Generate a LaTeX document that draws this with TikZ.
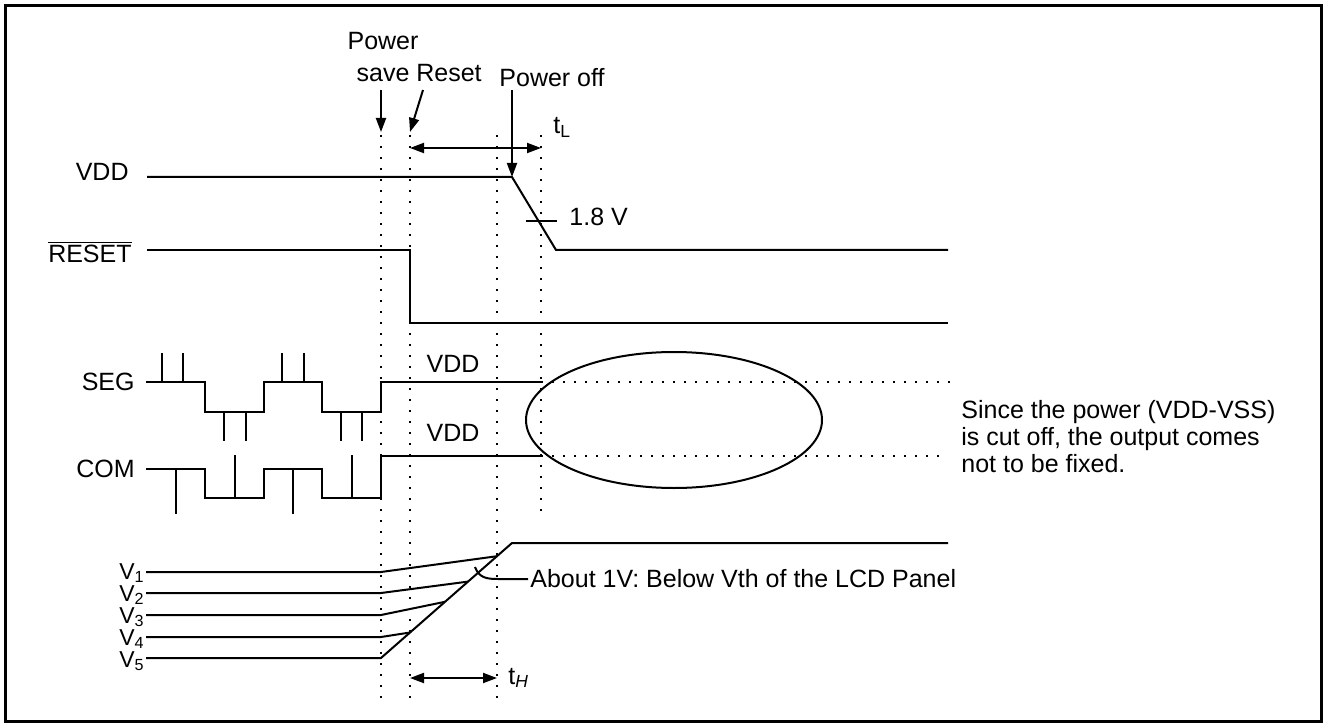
\documentclass[tikz,border=0pt]{standalone}
\usepackage{fontspec}
\setmainfont{Liberation Sans}
\usetikzlibrary{arrows.meta, calc}

\begin{document}
\begin{tikzpicture}[x=0.5pt, y=-0.5pt,
        every node/.style={font=\fontsize{12.5}{15}\selectfont, inner sep=0pt},
        sig/.style={line width=1pt},
        wave/.style={line width=1.3pt},
        guide/.style={line width=1pt, dash pattern=on 1pt off 4.5pt},
        pointer/.style={line width=1pt, -{Triangle[length=7pt, width=5pt]}},
        span/.style={line width=1pt, {Triangle[length=7pt, width=5pt]}-{Triangle[length=7pt, width=5pt]}},
        siglabel/.style={anchor=base east},
        note/.style={anchor=base west}
    ]

    \useasboundingbox (0,0) rectangle (1327,727);
    \draw[line width=1.5pt] (5.5,5.5) rectangle (1321.5,721.5);

    % event markers
    \coordinate (ps) at (381,132);
    \coordinate (rs) at (410,132);
    \coordinate (po) at (512,177);
    \node[anchor=base, align=center, font=\fontsize{12.5}{16}\selectfont] (psave) at (383,82) {Power\\save};
    \node[anchor=base] (reset) at (449,82) {Reset};
    \node[anchor=base] (poff) at (552,87) {Power off};
    \draw[pointer] (ps |- 0,90) -- (ps);
    \draw[pointer] (423,90) -- (rs);
    \draw[pointer] (po |- 0,90) -- (po);

    \draw[guide] (381,135) -- (381,705);
    \draw[guide] (410,135) -- (410,705);
    \draw[guide] (497,135) -- (497,705);
    \draw[guide] (541,135) -- (541,515);

    % tL, tH
    \draw[span] (410,148) -- (541,148);
    \node[note] (tl) at (553,134) {t\textsubscript{L}};
    \draw[span] (410,678) -- (497,678);
    \node[note] (th) at (508,684) {t\textsubscript{\itshape H}};

    % VDD
    \node[siglabel] (vdd) at (129,181) {VDD};
    \draw[sig] (147,177) -- (512,177) -- (556,250) -- (948,250);
    \draw[sig] (526,221) -- (557,221);
    \node[note] (v18) at (569,226) {1.8 V};

    % RESET
    \node[siglabel] (rst) at (132,263) {$\overline{\mbox{RESET}}$};
    \draw[sig] (147,250) -- (410,250) -- (410,323) -- (948,323);

    % SEG
    \node[siglabel] (seg) at (135,390) {SEG};
    \draw[wave] (146,382) -- (205,382) -- (205,412) -- (264,412) -- (264,382)
        -- (322,382) -- (322,412) -- (381,412) -- (381,382) -- (541,382);
    \foreach \x in {162,183,282,304}
        \draw[wave] (\x,382) -- (\x,353);
    \foreach \x in {224,246,341,362}
        \draw[wave] (\x,412) -- (\x,441);
    \draw[guide] (541,382) -- (950,382);
    \node[anchor=base] (segv) at (453,372) {VDD};

    % COM
    \node[siglabel] (com) at (135,477) {COM};
    \draw[wave] (146,469) -- (205,469) -- (205,498) -- (264,498) -- (264,469)
        -- (322,469) -- (322,498) -- (381,498) -- (381,456) -- (541,456);
    \foreach \x in {176,293}
        \draw[wave] (\x,469) -- (\x,514);
    \foreach \x in {235,352}
        \draw[wave] (\x,498) -- (\x,455);
    \draw[guide] (541,456) -- (945,456);
    \node[anchor=base] (comv) at (453,441) {VDD};

    \draw[sig] (674,420) ellipse [x radius=74pt, y radius=34pt];
    \node[note, align=left, font=\fontsize{12.5}{13.5}\selectfont] (cut) at (961,472)
        {Since the power (VDD-VSS)\\is cut off, the output comes\\not to be fixed.};

    % V1..V5
    \foreach \i/\b in {1/579, 2/601, 3/623, 4/645, 5/667}
        \node[siglabel, font=\fontsize{11.5}{13}\selectfont] (v\i) at (145,\b) {V\textsubscript{\i}};
    \draw[sig] (146,658) -- (381,658) -- (512,543) -- (948,543);
    \draw[sig] (146,572) -- (381,572) -- (497,556.2);
    \draw[sig] (146,593) -- (381,593) -- (468,581.6);
    \draw[sig] (146,615) -- (381,615) -- (445,601.8);
    \draw[sig] (146,637) -- (381,637) -- (410,632.5);
    \draw[sig] (475,567) .. controls (479,578) and (487,579) .. (498,579) -- (528,579);
    \node[note] (vth) at (530,587) {About 1V: Below Vth of the LCD Panel};

\end{tikzpicture}
\end{document}
